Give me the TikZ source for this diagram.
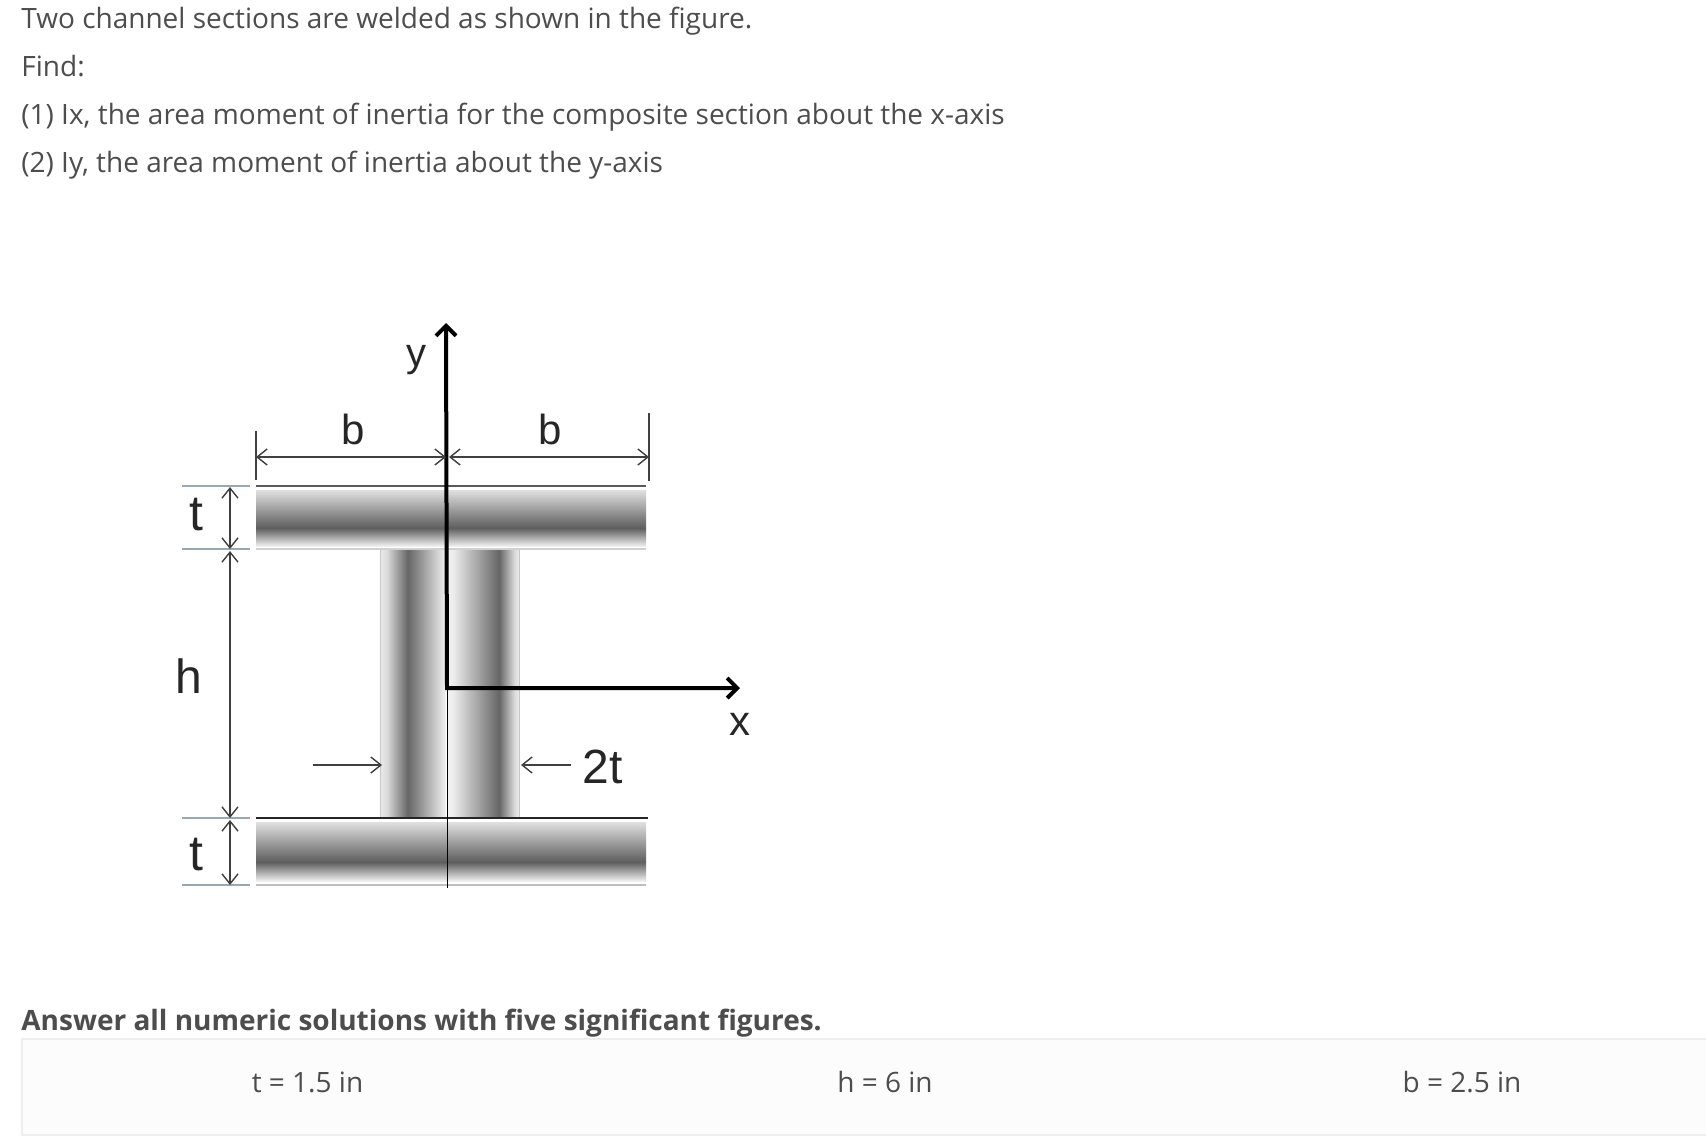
\documentclass[tikz,border=0pt]{standalone}
\usepackage{fontspec}
\setmainfont{Open Sans}
\newfontfamily\figfont{Liberation Sans}
\usepackage{xcolor}
\usetikzlibrary{arrows.meta}
\definecolor{bodytext}{HTML}{4D4D4D}
\definecolor{boxfill}{HTML}{FCFCFC}
\definecolor{boxedge}{HTML}{EEEEEE}
\definecolor{extline}{HTML}{9AA8B2}
\pgfdeclareverticalshading{flangeshade}{100bp}{color(0bp)=(black!6); color(25bp)=(black!6); color(41bp)=(black!63); color(50bp)=(black!50); color(75bp)=(black!12); color(100bp)=(black!12)}
\pgfdeclarehorizontalshading{webleft}{100bp}{color(0bp)=(black!8); color(25bp)=(black!8); color(30bp)=(black!14); color(46bp)=(black!60); color(75bp)=(black!5); color(100bp)=(black!5)}
\pgfdeclarehorizontalshading{webright}{100bp}{color(0bp)=(black!5); color(25bp)=(black!5); color(29bp)=(black!8); color(61bp)=(black!60); color(72bp)=(black!14); color(75bp)=(black!8); color(100bp)=(black!8)}
\tikzset{
  bodyline/.style={anchor=base west,inner sep=0pt,text=bodytext,font=\fontsize{14}{17}\selectfont},
  givenval/.style={inner sep=0pt,text=bodytext,font=\fontsize{14}{17}\selectfont},
  figlabel/.style={inner sep=0pt,text=black!85,font=\figfont\fontsize{#1}{28}\selectfont},
  dimline/.style={line width=0.7pt,black!75,{Straight Barb[length=5pt,width=8pt]}-{Straight Barb[length=5pt,width=8pt]}},
  arrline/.style={line width=0.7pt,black!75,-{Straight Barb[length=5pt,width=8pt]}},
  axisline/.style={line width=2pt,black,{Straight Barb[length=5pt,width=10pt]}-{Straight Barb[length=5pt,width=10pt]}}
}

\begin{document}
\begin{tikzpicture}[x=0.5pt,y=-0.5pt]
    \useasboundingbox (0,0) rectangle (1706,1136);
    \fill[white] (0,0) rectangle (1706,1136);

    % Question text
    \node[bodyline] (intro) at (21,28) {Two channel sections are welded as shown in the figure.};
    \node[bodyline] (find) at (21,76) {Find:};
    \node[bodyline] (partone) at (21,124) {(1) Ix, the area moment of inertia for the composite section about the x-axis};
    \node[bodyline] (parttwo) at (21,172) {(2) Iy, the area moment of inertia about the y-axis};

    % Flanges and web
    \shade[shading=flangeshade] (256,490) rectangle (646,546);
    \shade[shading=flangeshade] (256,822) rectangle (646,881);
    \shade[shading=webleft] (380,550) rectangle (446,818);
    \shade[shading=webright] (448,550) rectangle (519,818);
    \draw[line width=0.5pt,black!22] (380,550) -- (380,818);
    \draw[line width=0.5pt,black!22] (519,550) -- (519,818);
    \draw[line width=1pt,black!65] (256,486) -- (646,486);
    \draw[line width=1pt,black!18] (256,549) -- (646,549);
    \draw[line width=0.9pt,black!85] (256,818) -- (648,818);
    \draw[line width=0.9pt,black!25] (256,885) -- (646,885);

    % Axes
    \draw[axisline] (446,323) -- (447,688) -- (740,688);
    \draw[line width=0.9pt,black] (447.5,688) -- (447.5,888);
    \node[figlabel=20] (ylabel) at (416,360) {y};
    \node[figlabel=21] (xlabel) at (740,724) {x};

    % Width dimensions
    \draw[line width=0.7pt,black!75] (256,431) -- (256,480);
    \draw[line width=0.7pt,black!75] (649,413) -- (649,481);
    \draw[dimline] (256,457) -- (446,457);
    \draw[dimline] (449,457) -- (649,457);
    \node[figlabel=21] (bleft) at (353,429) {b};
    \node[figlabel=21] (bright) at (550,429) {b};

    % Height dimensions
    \foreach \ypos in {486,549,818,885}
        \draw[line width=0.9pt,extline] (182,\ypos) -- (250,\ypos);
    \draw[dimline] (230,487) -- (230,549);
    \draw[dimline] (230,551) -- (230,818);
    \draw[dimline] (230,820) -- (230,885);
    \node[figlabel=25] (ttop) at (196,515) {t};
    \node[figlabel=24] (hlabel) at (189,676) {h};
    \node[figlabel=25] (tbot) at (196,855) {t};

    % Web thickness
    \draw[arrline] (313,765) -- (382,765);
    \draw[arrline] (571,765) -- (521,765);
    \node[figlabel=24] (twot) at (603,767) {2t};

    % Answer note and given values
    \node[bodyline,font=\fontsize{14}{17}\selectfont\bfseries] (note) at (21,1030) {Answer all numeric solutions with five significant figures.};
    \draw[line width=0.8pt,boxedge,fill=boxfill] (1716,1039) -- (22,1039) -- (22,1135) -- (1716,1135);
    \node[givenval] (tval) at (307.5,1082) {t = 1.5 in};
    \node[givenval] (hval) at (885,1082) {h = 6 in};
    \node[givenval] (bval) at (1462,1082) {b = 2.5 in};
\end{tikzpicture}
\end{document}
